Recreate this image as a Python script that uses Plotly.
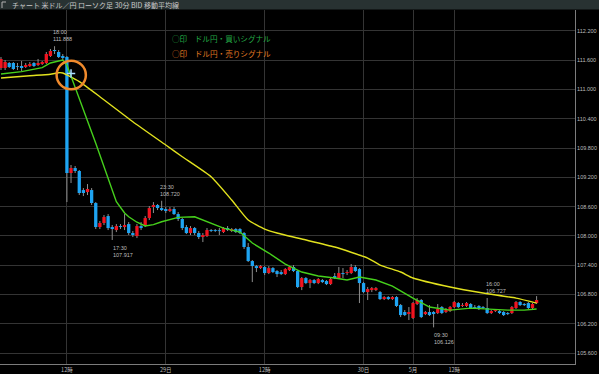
import plotly.graph_objects as go

# ---------------- data ----------------
opens = [111.441,111.441,111.544,111.544,111.482,111.482,111.462,111.482,111.544,111.503,
         111.523,111.544,111.687,111.810,111.769,111.687,111.667,109.289,109.391,109.330,
         108.940,108.899,108.940,108.674,108.182,108.264,108.407,108.182,108.120,108.202,
         108.182,108.243,108.059,107.997,108.202,108.223,108.366,108.592,108.633,108.571,
         108.551,108.510,108.551,108.448,108.346,108.182,108.059,108.161,108.059,107.977,
         107.997,108.120,108.120,108.115,108.079,108.161,108.100,108.141,108.141,108.059,
         107.772,107.485,107.382,107.341,107.362,107.239,107.341,107.280,107.259,107.218,
         107.300,107.362,107.280,106.952,107.136,107.034,107.095,107.034,107.095,107.075,
         107.013,107.177,107.136,107.239,107.239,107.239,107.362,107.321,107.034,106.849,
         106.890,106.890,106.849,106.706,106.747,106.706,106.747,106.583,106.440,106.399,
         106.317,106.604,106.686,106.399,106.440,106.440,106.419,106.542,106.440,106.460,
         106.542,106.624,106.563,106.563,106.604,106.542,106.563,106.542,106.522,106.419,
         106.460,106.460,106.440,106.419,106.419,106.522,106.645,106.604,106.624,106.522,
         106.624]
highs = [111.667,111.605,111.564,111.564,111.544,111.585,111.544,111.564,111.564,111.626,
         111.585,111.769,111.831,111.888,111.810,111.728,111.687,109.453,109.432,109.351,
         108.981,109.063,108.981,108.694,108.305,108.428,108.448,108.223,108.243,108.243,
         108.448,108.284,108.100,108.243,108.284,108.407,108.612,108.694,108.653,108.720,
         108.592,108.592,108.592,108.489,108.366,108.223,108.202,108.182,108.100,108.059,
         108.161,108.141,108.141,108.161,108.182,108.202,108.161,108.161,108.161,108.079,
         107.854,107.506,107.403,107.403,107.382,107.382,107.362,107.300,107.300,107.341,
         107.382,107.403,107.300,107.157,107.157,107.116,107.116,107.136,107.116,107.095,
         107.157,107.239,107.362,107.341,107.300,107.424,107.403,107.341,107.054,106.952,
         106.952,106.952,106.870,106.767,106.767,106.767,106.767,106.604,106.481,106.542,
         106.645,106.727,106.706,106.460,106.583,106.460,106.604,106.563,106.522,106.563,
         106.665,106.645,106.624,106.645,106.624,106.583,106.583,106.563,106.727,106.481,
         106.501,106.481,106.460,106.440,106.563,106.665,106.665,106.624,106.645,106.624,
         106.767]
lows = [111.400,111.400,111.441,111.400,111.400,111.380,111.441,111.462,111.462,111.482,
        111.503,111.523,111.667,111.728,111.646,111.605,108.694,109.084,109.289,108.838,
        108.817,108.838,108.633,108.141,108.141,108.223,108.120,107.917,108.079,108.141,
        108.120,108.018,107.977,107.956,108.120,108.182,108.325,108.469,108.530,108.510,
        108.469,108.489,108.428,108.305,108.120,108.038,108.018,108.018,107.936,107.874,
        107.977,108.079,108.079,108.018,108.059,108.100,108.079,108.059,108.038,107.731,
        107.465,107.054,107.259,107.321,107.198,107.218,107.239,107.157,107.198,107.198,
        107.280,107.259,106.931,106.890,107.013,106.931,107.013,107.013,107.034,106.993,
        106.993,107.116,107.116,107.136,107.198,107.218,107.259,106.624,106.829,106.686,
        106.849,106.870,106.686,106.686,106.686,106.686,106.542,106.337,106.358,106.276,
        106.296,106.583,106.317,106.378,106.358,106.126,106.399,106.399,106.419,106.440,
        106.522,106.522,106.542,106.542,106.501,106.501,106.481,106.501,106.399,106.399,
        106.440,106.399,106.358,106.378,106.399,106.501,106.563,106.563,106.501,106.501,
        106.604]
closes = [111.626,111.564,111.462,111.421,111.466,111.441,111.503,111.523,111.482,111.544,
          111.564,111.728,111.790,111.790,111.667,111.646,109.289,109.391,109.330,108.879,
          108.879,108.961,108.674,108.182,108.264,108.387,108.161,108.141,108.202,108.182,
          108.223,108.059,108.018,108.202,108.161,108.366,108.571,108.633,108.571,108.530,
          108.510,108.551,108.448,108.346,108.161,108.059,108.161,108.059,107.977,108.018,
          108.120,108.100,108.104,108.100,108.161,108.120,108.141,108.079,108.059,107.772,
          107.485,107.382,107.341,107.382,107.239,107.341,107.259,107.218,107.218,107.321,
          107.362,107.280,106.952,107.136,107.034,107.095,107.034,107.116,107.054,107.013,
          107.116,107.136,107.239,107.218,107.259,107.362,107.280,107.034,106.849,106.911,
          106.931,106.931,106.706,106.747,106.706,106.747,106.563,106.378,106.378,106.440,
          106.624,106.686,106.337,106.440,106.378,106.399,106.501,106.419,106.481,106.542,
          106.645,106.542,106.583,106.624,106.522,106.522,106.501,106.522,106.419,106.460,
          106.481,106.419,106.378,106.399,106.542,106.645,106.583,106.583,106.522,106.604,
          106.686]

# moving averages (bar index, value)
ma_short_idx = [0, 5, 10, 12, 14, 15, 16, 19, 23, 28, 30, 31, 33, 35, 37, 39, 43, 47, 50,
                54, 58, 61, 65, 69, 73, 77, 81, 84, 87, 91, 95, 97, 100, 104, 109, 114, 119,
                123, 127, 130]
ma_short_val = [111.318, 111.366, 111.448, 111.544, 111.585, 111.606, 111.503, 110.826, 109.900,
                108.701, 108.470, 108.393, 108.280, 108.203, 108.230, 108.291, 108.381,
                108.393, 108.291, 108.161, 108.079, 107.854, 107.649, 107.424, 107.260, 107.178,
                107.137, 107.096, 107.157, 107.096, 106.972, 106.870, 106.727, 106.542, 106.480,
                106.521, 106.501, 106.480, 106.480, 106.501]
ma_long_idx = [0, 7, 12, 14, 15, 16, 19, 24, 32, 40, 44, 51, 56, 60, 64, 67, 73, 81, 89, 92, 97,
               100, 109, 117, 125, 130]
ma_long_val = [111.237, 111.284, 111.312, 111.345, 111.339, 111.298, 111.161, 110.853, 110.341,
               109.863, 109.623, 109.213, 108.736, 108.325, 108.140, 108.059, 107.936, 107.772,
               107.546, 107.403, 107.260, 107.137, 106.952, 106.829, 106.726, 106.624]

tick_idx = [16, 40, 64, 88, 100, 110]
tick_text = ["12時", "29日", "12時", "30日", "5月", "12時"]
price_ticks = [105.6, 106.2, 106.8, 107.4, 108.0, 108.6, 109.2, 109.8, 110.4, 111.0, 111.6, 112.2]

# marked highs / lows: (bar index, time label, price, kind)
marks = [(13, "18:00", 111.888, "high"), (39, "23:30", 108.720, "high"),
         (27, "17:30", 107.917, "low"), (105, "09:30", 106.126, "low"),
         (118, "16:00", 106.727, "high")]

signal_idx = 17
signal_price = 111.33

title_text = "チャート 米ドル／円 ローソク足 30分 BID 移動平均線"
buy_text = "○印　ドル円・買いシグナル"
sell_text = "○印　ドル円・売りシグナル"

# ---------------- styles ----------------
RED = "#f01420"
BLUE = "#1ea4f2"
WICK = "#8e8e8e"
GREEN = "#46d01c"
YELLOW = "#e2e21e"
GRID = "#343434"
AXIS = "#7c7c7c"
TXT = "#bdbdbd"
NUMFONT = "Liberation Sans Narrow, Liberation Sans, Arial"
JPFONT = "Noto Sans CJK JP"
MIN_BODY = 0.009

n = len(opens)
idx = list(range(n))

fig = go.Figure()

# wicks
wx, wy = [], []
for i in idx:
    wx += [i, i, None]
    wy += [lows[i], highs[i], None]
fig.add_trace(go.Scatter(x=wx, y=wy, mode="lines", line=dict(color=WICK, width=1),
                         hoverinfo="skip", showlegend=False))

# bodies (drawn as thick line segments on top of the wicks)
for up, col in ((True, RED), (False, BLUE)):
    bx, by = [], []
    for i in idx:
        o, c = opens[i], closes[i]
        if (c >= o) != up:
            continue
        lo, hi = min(o, c), max(o, c)
        if hi - lo < 2 * MIN_BODY:
            mid = (hi + lo) / 2
            lo, hi = mid - MIN_BODY, mid + MIN_BODY
        bx += [i, i, None]
        by += [lo, hi, None]
    fig.add_trace(go.Scatter(x=bx, y=by, mode="lines", line=dict(color=col, width=3.3),
                             hoverinfo="skip", showlegend=False))

# moving averages
fig.add_trace(go.Scatter(x=ma_long_idx, y=ma_long_val, mode="lines",
                         line=dict(color=YELLOW, width=1.4, shape="spline", smoothing=0.5),
                         showlegend=False))
fig.add_trace(go.Scatter(x=ma_short_idx, y=ma_short_val, mode="lines",
                         line=dict(color=GREEN, width=1.4),
                         showlegend=False))

# signal cross
fig.add_trace(go.Scatter(x=[signal_idx], y=[signal_price], mode="markers",
                         marker=dict(symbol="cross-thin", size=6,
                                     line=dict(color="#a8dcff", width=1.5)),
                         showlegend=False))

# orange circle
fig.add_shape(type="circle", xref="x", yref="y", x0=13.5, x1=20.6, y0=111.005, y1=111.591,
              line=dict(color="#f08a2c", width=2.5))

# high / low labels
for i, t, p, kind in marks:
    if kind == "high":
        fig.add_annotation(x=i - 0.8, y=p, xref="x", yref="y", text=f"{t}<br>{p:.3f}",
                           showarrow=False, xanchor="left", yanchor="bottom", yshift=2,
                           align="left", font=dict(size=5.5, color=TXT, family=NUMFONT))
    else:
        fig.add_annotation(x=i - 0.3, y=p, xref="x", yref="y", text=f"{t}<br>{p:.3f}",
                           showarrow=False, xanchor="left", yanchor="top", yshift=-3,
                           align="left", font=dict(size=5.5, color=TXT, family=NUMFONT))

# signal legend texts
fig.add_annotation(x=170 / 575, y=0.9209, xref="paper", yref="paper", text=buy_text,
                   showarrow=False, xanchor="left", yanchor="middle",
                   font=dict(size=7.6, color="#22a845", family=JPFONT))
fig.add_annotation(x=170 / 575, y=0.8785, xref="paper", yref="paper", text=sell_text,
                   showarrow=False, xanchor="left", yanchor="middle",
                   font=dict(size=7.6, color="#e07a22", family=JPFONT))

# title bar
fig.add_shape(type="rect", xref="paper", yref="paper", x0=0, x1=599 / 575,
              y0=1 + 0.6 / 354, y1=1 + 10 / 354, fillcolor="#283232",
              line=dict(width=0), layer="above")
fig.add_shape(type="path", xref="paper", yref="paper",
              path=f"M {6/575} {1+8/354} L {2/575} {1+8/354} L {2/575} {1+2/354}",
              line=dict(color="#b0b0b0", width=1), layer="above")
fig.add_annotation(x=10 / 575, y=1 + 5 / 354, xref="paper", yref="paper", text=title_text,
                   showarrow=False, xanchor="left", yanchor="middle",
                   font=dict(size=7, color="#c8c8c8", family=JPFONT))

fig.update_layout(
    width=599, height=374,
    margin=dict(l=0, r=24, t=10, b=10),
    paper_bgcolor="#000000", plot_bgcolor="#000000",
    showlegend=False,
    xaxis=dict(range=[-0.24, 139.32], tickvals=tick_idx, ticktext=tick_text,
               showgrid=True, gridcolor=GRID, gridwidth=1, zeroline=False,
               showline=True, linecolor=AXIS, linewidth=1, ticks="",
               tickfont=dict(size=5.5, color=TXT, family=JPFONT), fixedrange=True),
    yaxis=dict(range=[105.375, 112.630], side="right", tickvals=price_ticks,
               ticktext=[f"{v:.3f}" for v in price_ticks],
               showgrid=True, gridcolor=GRID, gridwidth=1, zeroline=False,
               showline=True, linecolor=AXIS, linewidth=1, ticks="",
               tickfont=dict(size=5.5, color=TXT, family=NUMFONT), fixedrange=True),
)

fig.write_html("out.html")
